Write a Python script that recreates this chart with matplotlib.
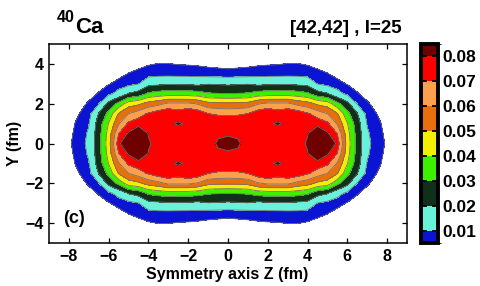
import numpy as np
import matplotlib
matplotlib.use("Agg")
import matplotlib.pyplot as plt
from matplotlib.colors import ListedColormap, BoundaryNorm
from matplotlib.cm import ScalarMappable

plt.rcParams['font.family'] = ['Liberation Sans', 'DejaVu Sans']
plt.rcParams['font.weight'] = 'bold'
plt.rcParams['axes.labelweight'] = 'bold'

# ---- data: density on one quadrant (Z >= 0, Y >= 0) ----
z_half = [0.0, 0.5, 1.0, 1.5, 2.0, 2.5, 3.0, 3.5, 4.0, 4.5, 5.0,
          5.5, 6.0, 6.5, 7.0, 7.5, 8.0, 8.5, 9.0]
y_half = [0.0, 0.5, 1.0, 1.5, 2.0, 2.5, 3.0, 3.5, 4.0, 4.5, 5.0]

density_quadrant = [
    [0.090, 0.083, 0.0705, 0.075, 0.075, 0.0755, 0.0765, 0.077, 0.081, 0.095, 0.10, 0.076, 0.0455, 0.026, 0.012, 0.0065, 0.0045, 0.002, 0.001],
    [0.0765, 0.0765, 0.0765, 0.076, 0.0765, 0.0745, 0.0765, 0.078, 0.0795, 0.09, 0.0815, 0.0695, 0.044, 0.026, 0.011, 0.0063, 0.0041, 0.0019, 0.0009],
    [0.078, 0.0775, 0.0765, 0.077, 0.0785, 0.0812, 0.0785, 0.078, 0.078, 0.0762, 0.0719, 0.0589, 0.0405, 0.0245, 0.0095, 0.0063, 0.0031, 0.0015, 0.0007],
    [0.068, 0.0685, 0.0701, 0.076, 0.079, 0.0745, 0.078, 0.076, 0.0712, 0.0651, 0.060, 0.0506, 0.0329, 0.0205, 0.007, 0.0049, 0.0027, 0.0012, 0.0006],
    [0.0515, 0.052, 0.053, 0.059, 0.062, 0.062, 0.062, 0.057, 0.054, 0.048, 0.045, 0.0331, 0.023, 0.0096, 0.0059, 0.0025, 0.0012, 0.0006, 0.0003],
    [0.030, 0.0305, 0.031, 0.034, 0.035, 0.035, 0.0355, 0.034, 0.0318, 0.0241, 0.0207, 0.0128, 0.0082, 0.0055, 0.0027, 0.0013, 0.0006, 0.0003, 0.0002],
    [0.0185, 0.019, 0.0195, 0.0176, 0.0185, 0.0185, 0.019, 0.018, 0.017, 0.0097, 0.0075, 0.0064, 0.0047, 0.0027, 0.0013, 0.0006, 0.0003, 0.0002, 0.0001],
    [0.0058, 0.006, 0.0062, 0.007, 0.0072, 0.0073, 0.0075, 0.0075, 0.0068, 0.0065, 0.0052, 0.0036, 0.0022, 0.0011, 0.0005, 0.0003, 0.0002, 0.0001, 0.0001],
    [0.0042, 0.0043, 0.0044, 0.0045, 0.0047, 0.0048, 0.0051, 0.0051, 0.0047, 0.0034, 0.003, 0.0018, 0.001, 0.0005, 0.0003, 0.0002, 0.0001, 0.0001, 0.0001],
    [0.002, 0.0021, 0.0022, 0.0022, 0.0023, 0.0024, 0.0026, 0.0026, 0.0024, 0.0018, 0.0016, 0.001, 0.0005, 0.0003, 0.0002, 0.0001, 0.0001, 0.0001, 0.0001],
    [0.0009, 0.0009, 0.001, 0.001, 0.001, 0.001, 0.0011, 0.0011, 0.001, 0.0008, 0.0007, 0.0004, 0.0003, 0.0002, 0.0001, 0.0001, 0.0001, 0.0001, 0.0001],
]

levels = [0.005, 0.01, 0.02, 0.03, 0.04, 0.05, 0.06, 0.07, 0.08, 0.085]
band_colors = ['#0a14d2', '#68f2da', '#10301a', '#3cf000', '#f2f000',
               '#e8700c', '#fca04c', '#ff0000', '#6e0000']
cbar_ticks = [0.01, 0.02, 0.03, 0.04, 0.05, 0.06, 0.07, 0.08]
cbar_labels = ['0.01', '0.02', '0.03', '0.04', '0.05', '0.06', '0.07', '0.08']
x_ticks = [-8, -6, -4, -2, 0, 2, 4, 6, 8]
y_ticks = [-4, -2, 0, 2, 4]

# ---- build the full symmetric grid from the quadrant table ----
zh = np.array(z_half)
yh = np.array(y_half)
q = np.array(density_quadrant)
z_full = np.concatenate([-zh[:0:-1], zh])
y_full = np.concatenate([-yh[:0:-1], yh])
half = np.vstack([q[:0:-1], q])
dens = np.hstack([half[:, :0:-1], half])
Zg, Yg = np.meshgrid(z_full, y_full)

fig = plt.figure(figsize=(4.8, 2.86), dpi=100)
ax = fig.add_axes([49 / 480, 43 / 286, 358 / 480, 199 / 286])

cmap = ListedColormap(band_colors)
cmap.set_over(band_colors[-1])
norm = BoundaryNorm(levels, cmap.N)

ax.contourf(Zg, Yg, dens, levels=levels, cmap=cmap, norm=norm, extend='max')
ax.contour(Zg, Yg, dens, levels=levels[:-1], colors='#707070', linewidths=0.6)

ax.set_xlim(-9, 9)
ax.set_ylim(-5, 5)
ax.set_xticks(x_ticks)
ax.set_yticks(y_ticks)
ax.tick_params(direction='in', top=True, right=True, length=3.5, width=0.9,
               labelsize=11.5, pad=4)
for s in ax.spines.values():
    s.set_linewidth(1.1)

ax.text(-8.3, -3.75, '(c)', fontsize=13, fontweight='bold', ha='left', va='center')

cax = fig.add_axes([421 / 480, 43 / 286, 17 / 480, 199 / 286])
sm = ScalarMappable(norm=norm, cmap=cmap)
cb = fig.colorbar(sm, cax=cax, ticks=cbar_ticks, spacing='proportional')
cb.outline.set_linewidth(2.8)
cax.tick_params(direction='in', left=True, right=True, length=4, width=1.3,
                labelsize=12.5, pad=3)
cax.set_yticklabels(cbar_labels)

fig.text(57 / 480, 1 - 22 / 286, '40', fontsize=11.5, fontweight='bold', ha='left', va='baseline')
fig.text(75 / 480, 1 - 33.5 / 286, 'Ca', fontsize=16, fontweight='bold', ha='left', va='baseline')
fig.text(402 / 480, 1 - 33.5 / 286, '[42,42] , I=25', fontsize=13.5, fontweight='bold',
         ha='right', va='baseline')
fig.text(14 / 480, 0.5, 'Y (fm)', rotation=90, ha='center', va='center',
         fontsize=11.5, fontweight='bold')
fig.text(227.5 / 480, 1 - 275 / 286, 'Symmetry axis Z (fm)', ha='center', va='center',
         fontsize=11.5, fontweight='bold')

fig.savefig('out.png', dpi=100)
